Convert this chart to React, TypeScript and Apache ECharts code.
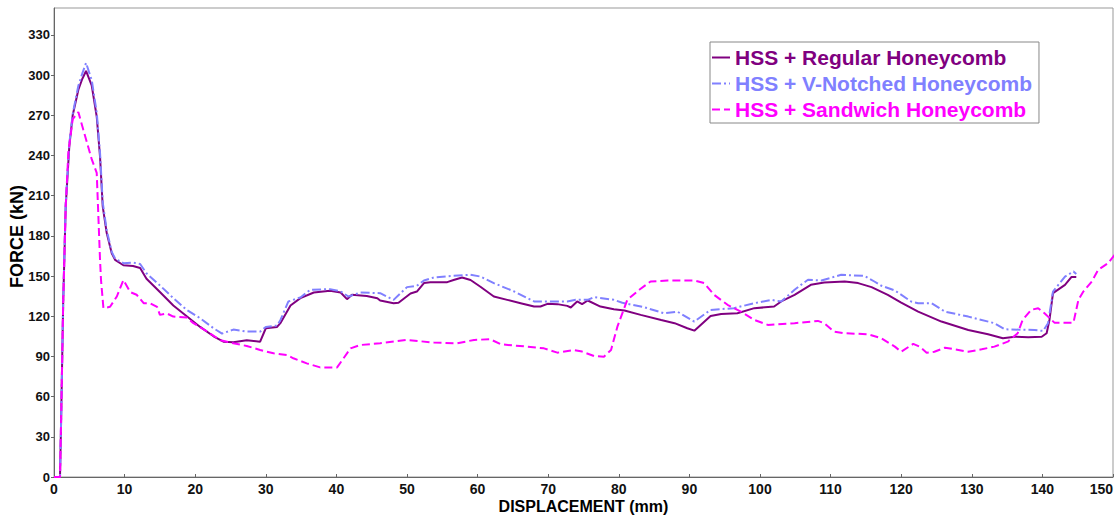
import React, { useEffect, useRef } from "react";
import * as echarts from "echarts";

const seriesNames = [
  "HSS + Regular Honeycomb",
  "HSS + V-Notched Honeycomb",
  "HSS + Sandwich Honeycomb",
];

const xTickInterval = 10;
const yTickInterval = 30;

const regular: number[][] = [
  [0, 0], [0.85, 0], [1.0, 40], [1.3, 130], [1.5, 170], [1.66, 202], [2.17, 247], [2.65, 270],
  [3.45, 289], [4.0, 297], [4.54, 303], [5.35, 292], [6.05, 269], [6.52, 239], [6.9, 202],
  [7.47, 182], [8.18, 167], [8.65, 162], [9.83, 158], [11.2, 157.5], [12.2, 156], [13.1, 148],
  [15.0, 138], [16.9, 128], [18.8, 120], [20.7, 112], [22.6, 105], [24.0, 101], [25.4, 100.5],
  [27.3, 102], [29.2, 101], [30.0, 111], [31.6, 112], [32.06, 114.8], [33.5, 128], [34.9, 133.5],
  [36.8, 137.7], [39.1, 139], [40.6, 137.7], [41.5, 132.7], [42.2, 136], [44.3, 135], [45.8, 133.4],
  [46.2, 131.7], [48.1, 129.7], [48.8, 130], [50.5, 137], [51.4, 138.4], [52.4, 144.7], [53.3, 145.4],
  [55.7, 145.4], [56.6, 147], [57.8, 148.9], [59.0, 147], [60.4, 142], [62.3, 134.7], [64.2, 132.2],
  [66.1, 129.7], [68.0, 127.2], [68.9, 127.2], [69.9, 129.2], [71.3, 129], [72.7, 127.7], [73.2, 126.5],
  [74.1, 131], [74.8, 129], [75.6, 131.7], [77.4, 127.2], [79.3, 125.2], [80.8, 124.2], [83.1, 121],
  [86, 117.2], [87.9, 114.8], [89.7, 111], [90.7, 109.2], [91.6, 113.5], [93.0, 120.2], [94.5, 121.7],
  [96.8, 122.2], [99.2, 126], [102, 127.2], [103, 131], [104.9, 135.9], [107.2, 143.4], [109.1, 145.2],
  [112, 145.9], [113.9, 144.7], [115.8, 141.7], [118.1, 135.9], [120, 130.2], [122.4, 123.4],
  [125.7, 116], [129.5, 109.7], [132.3, 106.5], [134.4, 103.5], [136.1, 104.7], [138, 104.3],
  [139.9, 104.7], [140.6, 107.3], [141.0, 117.2], [141.5, 137.2], [143.2, 143.4], [144.1, 149.2],
  [144.8, 149.2],
];

const vNotched: number[][] = [
  [0, 0], [0.85, 0], [1.0, 40], [1.3, 130], [1.5, 172], [1.66, 204], [2.17, 249], [2.65, 271],
  [3.45, 292], [4.0, 301], [4.54, 309], [5.35, 296], [6.05, 272], [6.52, 242], [6.9, 205],
  [7.47, 184], [8.18, 168], [8.65, 163], [9.83, 159.6], [11.2, 160], [12.2, 159], [13.1, 152],
  [15.0, 143], [16.9, 133.5], [18.8, 124.7], [20.7, 118.5], [22.6, 111], [23.8, 107], [25.4, 110],
  [27.3, 108.5], [29.2, 108.5], [30, 112], [31.6, 113], [32.06, 117], [33.2, 131], [34.9, 134],
  [36.3, 139.7], [39.1, 140.2], [40.6, 138.5], [41.7, 134.7], [43.4, 137.7], [46.2, 137.2],
  [48.1, 132.2], [50, 141.7], [51.4, 142.7], [52.4, 146.6], [53.8, 148.9], [56.6, 150.1], [59, 150.9],
  [60.4, 149.6], [62.3, 144.7], [65.2, 138.4], [68, 131], [69.9, 131], [72.7, 131], [73.9, 132.2],
  [75.6, 132.2], [76.5, 134.2], [79.3, 132.2], [80.5, 130], [83.6, 126.7], [86.4, 122.2], [88.3, 123.4],
  [90.7, 116], [93, 124.7], [96.3, 126], [99.2, 129.7], [101.6, 132.2], [103, 131], [104.9, 139.7],
  [105.8, 143.4], [106.8, 147.2], [108.7, 146.6], [111.5, 150.9], [114.8, 150.1], [116.2, 145.9],
  [117.2, 142.7], [119.1, 139.2], [121.4, 131], [122.4, 129.7], [124.3, 129.7], [126.2, 123.4],
  [129.5, 119.7], [133.2, 114.8], [134.7, 110.2], [138.9, 109.7], [140.1, 109], [140.8, 114.8],
  [141.5, 138.4], [143.2, 149.6], [144.4, 153.4], [144.8, 151.5],
];

const sandwich: number[][] = [
  [0, 0], [0.85, 0], [1.0, 40], [1.3, 130], [1.5, 170], [1.66, 202], [2.03, 242], [2.65, 267],
  [3.45, 272.3], [4.16, 259], [5.35, 237], [6.05, 227], [6.52, 162], [6.66, 147], [7.0, 126],
  [7.94, 127], [8.9, 134.7], [9.83, 147], [10.8, 138], [11.7, 136], [12.7, 129.7], [13.6, 129.7],
  [14.6, 127], [15.0, 121], [16.0, 122], [16.9, 119.7], [18.8, 119], [19.7, 115], [21.7, 108.5],
  [23.6, 102], [25.4, 99.8], [27.3, 97.8], [29.2, 94.8], [31.1, 92.3], [33, 91], [33.9, 88.6],
  [35.8, 84.8], [37.7, 81.8], [40.1, 81.8], [42.0, 96], [43.4, 98.5], [46.2, 99.8], [50.0, 102.3],
  [53.8, 100.3], [57.1, 99.8], [59.5, 102.3], [61.8, 102.8], [63.3, 99], [67.0, 97.3], [69.4, 96],
  [71.3, 92.8], [73.6, 94.8], [74.8, 93.6], [76.5, 90.3], [77.9, 89.8], [78.9, 94.8], [79.8, 112.2],
  [81.2, 132.2], [82.9, 139.7], [84.5, 145.9], [86.9, 146.6], [90.7, 146.6], [92.1, 144.7],
  [93.5, 135.9], [95.4, 128.5], [97.3, 123.4], [99.2, 117.2], [101.1, 113.5], [104.9, 114.8],
  [108.2, 116.5], [109.1, 114.8], [110.5, 108.5], [111.9, 107.3], [115.3, 106.5], [117.2, 103.5],
  [119.1, 97.3], [120, 93.5], [121.7, 99.3], [122.6, 97.3], [123.6, 92.8], [124.7, 93.5],
  [126.2, 96.5], [128.1, 94.8], [129.5, 93.5], [131.4, 95.3], [133.2, 97.3], [135.1, 101],
  [136.5, 107.3], [137.2, 117.2], [138.4, 124.7], [139.4, 126], [140.3, 122.2], [141.7, 115.2],
  [143.2, 115.2], [144.4, 115.2], [145.1, 132.2], [145.8, 138.4], [147.0, 145.9], [147.9, 154.6],
  [149.3, 159.6], [150.5, 167.6],
];

const colors = ["#800080", "#8080FF", "#FF00FF"];
const FONT = "'Liberation Sans', Arial, Helvetica, sans-serif";

export default function App() {
  const ref = useRef<HTMLDivElement>(null);
  useEffect(() => {
    document.body.style.margin = "0";
    if (!ref.current) return;
    const chart = echarts.init(ref.current, undefined, { renderer: "svg" });
    const dashes: any[] = ["solid", [9, 3, 2, 3], [8, 4]];
    const datas = [regular, vNotched, sandwich];
    chart.setOption({
      animation: false,
      backgroundColor: "#fff",
      textStyle: { fontFamily: FONT },
      grid: {
        left: 54,
        right: 4,
        top: 8,
        bottom: 40,
        show: true,
        borderColor: "#999",
        borderWidth: 1,
        containLabel: false,
        outerBoundsMode: "none",
      },
      legend: {
        orient: "vertical",
        left: 710,
        top: 42,
        padding: [5, 7, 3, 1],
        itemWidth: 18,
        itemHeight: 14,
        itemGap: 5,
        borderColor: "#888",
        borderWidth: 1,
        backgroundColor: "#fff",
        itemStyle: { opacity: 0 },
        data: seriesNames.map((n, i) => ({
          name: n,
          textStyle: { color: colors[i] },
        })),
        textStyle: {
          fontFamily: FONT,
          fontWeight: "bold",
          fontSize: 21,
          lineHeight: 20,
        },
      },
      xAxis: {
        type: "value",
        min: 0,
        max: 150,
        interval: xTickInterval,
        name: "DISPLACEMENT (mm)",
        nameLocation: "middle",
        nameGap: 21,
        nameMoveOverlap: false,
        nameTextStyle: {
          fontFamily: FONT,
          fontWeight: "bold",
          fontSize: 16,
          color: "#000",
          verticalAlign: "top",
        },
        axisLine: { show: true, lineStyle: { color: "#666", width: 1 } },
        axisTick: { show: true, inside: true, length: 3, lineStyle: { color: "#666" } },
        axisLabel: {
          fontFamily: FONT,
          fontWeight: "bold",
          fontSize: 14,
          color: "#111",
          margin: 5,
          alignMaxLabel: "right",
        },
        splitLine: { show: false },
      },
      yAxis: {
        type: "value",
        min: 0,
        max: 350,
        interval: yTickInterval,
        name: "FORCE (kN)",
        nameLocation: "middle",
        nameRotate: 90,
        nameGap: 28,
        nameMoveOverlap: false,
        nameTextStyle: {
          fontFamily: FONT,
          fontWeight: "bold",
          fontSize: 18,
          color: "#000",
          padding: [0, 0, 0, 12],
        },
        axisLine: { show: true, lineStyle: { color: "#666", width: 1 } },
        axisTick: { show: true, inside: false, length: 3, lineStyle: { color: "#666" } },
        axisLabel: {
          fontFamily: FONT,
          fontWeight: "bold",
          fontSize: 13,
          color: "#111",
          margin: 4,
          showMaxLabel: false,
        },
        splitLine: { show: false },
      },
      series: seriesNames.map((n, i) => ({
        name: n,
        type: "line",
        data: datas[i],
        symbol: "none",
        showSymbol: false,
        clip: true,
        color: colors[i],
        lineStyle: { color: colors[i], width: 2, type: dashes[i] },
        z: 2 + i,
      })),
    });
    return () => chart.dispose();
  }, []);
  return <div ref={ref} style={{ width: 1117, height: 517 }} />;
}
